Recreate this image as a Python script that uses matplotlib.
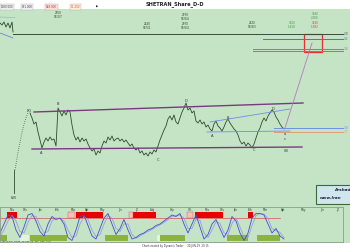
import matplotlib
matplotlib.use("Agg")
import matplotlib.pyplot as plt
from matplotlib.patches import Rectangle
import numpy as np

BG = "#c5e3c5"

# daily closes, first bar = 15
price_start = 15
price = [2870, 2820, 2760, 2780, 2680, 2600, 2520, 2580, 2620, 2590, 2630, 2600, 2610, 2540,
         2920, 2880, 2840, 2890, 2850, 2900, 2880, 2750, 2650, 2600, 2630, 2580, 2620, 2590,
         2610, 2560, 2520, 2490, 2510, 2450, 2490, 2470, 2540, 2590, 2570, 2630, 2600, 2640,
         2590, 2610, 2620, 2590, 2610, 2580, 2600, 2570, 2540, 2560, 2520, 2500, 2520, 2470,
         2490, 2450, 2470, 2440, 2480, 2460, 2500, 2480, 2540, 2600, 2650, 2700, 2740, 2810,
         2840, 2800, 2850, 2780, 2760, 2820, 2880, 2920, 2970, 2900, 2920, 2870, 2890, 2790,
         2770, 2800, 2760, 2780, 2730, 2750, 2710, 2690, 2760, 2790, 2740, 2720, 2690, 2730,
         2780, 2810, 2770, 2740, 2710, 2690, 2650, 2590, 2560, 2580, 2540, 2570, 2550, 2520,
         2560, 2620, 2680, 2720, 2780, 2820, 2790, 2840, 2870, 2900, 2880, 2830, 2800, 2760,
         2730, 2710]

# earlier swing in top-left corner
early_idx = [0, 1, 2, 3, 4, 5, 6, 6.5]
early_px = [3770, 3750, 3780, 3730, 3770, 3720, 3780, 3680]
early_line_idx = [0, 6.5]
early_line_px = [3670, 3620]
early_top_idx = [0, 7.5]
early_top_px = [3830, 3825]

# spike and dotted rally into (X)
spike_idx = [7, 7]
spike_px = [2070, 2300]
rally_idx = [7.5, 8.5, 9.5, 10.5, 11.5, 12.5, 13.5, 14]
rally_px = [2300, 2420, 2530, 2630, 2720, 2790, 2850, 2870]

# trend lines
chan_top_idx, chan_top_px = [17, 151.5], [2880, 2970]
chan_bot_idx, chan_bot_px = [16, 151], [2510, 2530]
tri_top_idx, tri_top_px = [105, 145], [2780, 2910]
tri_bot_idx, tri_bot_px = [103.5, 145], [2680, 2690]
proj_idx, proj_px = [142.5, 156], [2720, 3570]

# target box
box_idx = [152, 161]
box_px = [3480, 3660]

# horizontal levels
level_px = [3660, 3610, 3510, 3490, 2720, 2680]
level_from = [6.5, 131.5, 126.5, 126.5, 137, 137]
level_col = ["#3c4c3c", "#4a6ee0", "#7a8a7a", "#7a8a7a", "#6f8fe8", "#d8a070"]
level_txt = ["2.0", "4.2", "1.6", "", "1.8", "2.7"]

# wave labels
wave_txt = ["(W)", "(X)", "A", "B", "C", "D", "A", "B", "C", "D", "a", "c", "(B)"]
wave_idx = [7, 14.5, 20.5, 29, 79, 93, 106, 114, 127, 136.5, 142.5, 142.5, 143]
wave_px = [2020, 2890, 2470, 2960, 2400, 2990, 2640, 2820, 2500, 2910, 2660, 2610, 2490]

# time/price notes along the top
note_idx = [29, 73.5, 92.5, 92.5, 126, 146, 157.5, 157.5]
note_px = [3850, 3740, 3830, 3740, 3750, 3750, 3840, 3750]
note_txt = ["2950\n98/2/7", "2440\n98/5/1", "2970\n98/6/4", "2970\n98/6/4",
            "2520\n98/8/3", "3520\n1.618", "3660\n2.000", "3620\n1.382"]
note_col = ["#304030"] * 5 + ["#3c9a3c", "#3c9a3c", "#d04040"]

# oscillator
osc = [30, 60, 90, 85, 40, 15, 50, 90, 95, 70, 35, 20, 60, 85, 75, 80, 60, 15,
       5, 40, 85, 90, 55, 20, 10, 45, 80, 95, 60, 25, 45, 75, 40, 10, 15, 25,
       30, 40, 45, 55, 60, 70, 80, 90, 85, 95, 60, 30, 60, 90, 50, 10, 25, 60,
       75, 45, 15, 40, 85, 70, 30, 5, 30, 80, 95, 95, 90, 60, 30, 45, 20, 10]
sig = [20, 40, 70, 88, 70, 35, 30, 65, 88, 85, 55, 30, 35, 70, 80, 78, 70, 40,
       15, 20, 60, 85, 75, 40, 18, 25, 60, 88, 80, 45, 35, 60, 60, 25, 12, 20,
       28, 35, 42, 50, 57, 65, 75, 85, 88, 90, 80, 45, 45, 75, 72, 30, 15, 40,
       68, 62, 30, 25, 62, 80, 50, 18, 15, 55, 88, 95, 93, 78, 45, 38, 32, 15]
red_zones = [(3.5, 8.5), (38, 51.5), (66.5, 78), (97.5, 111.5), (124, 126.5)]
pink_zones = [(34, 37.5), (64.5, 66.5), (93.5, 96.5)]
green_zones = [(0, 3.5), (15, 33.5), (52.5, 64), (80, 92.5), (113.5, 124), (128.5, 140)]
light_zones = [(10, 14.5), (78.5, 80)]
month_idx = [6, 12.5, 20, 28.5, 36.5, 43.5, 51, 60, 68.5, 76.5, 86, 95, 103.5,
             111, 117.5, 125, 132.5, 141.5, 151.5, 161, 169]
month_txt = ["Nov", "Dec", "Jan", "Feb", "Mar", "Apr", "May", "Jun", "Jul", "Aug", "Sep",
             "Oct", "Nov", "Dec", "Jan", "Feb", "Mar", "Apr", "May", "Jun", "Jul"]

fig = plt.figure(figsize=(3.5, 2.5), dpi=100)
fig.patch.set_facecolor("white")

ax = fig.add_axes([0, 7 / 250, 1, 234 / 250])
ax.set_facecolor(BG)
ax.set_xlim(0, 175)
ax.set_ylim(1570, 3910)
ax.set_xticks([])
ax.set_yticks([])
for s in ax.spines.values():
    s.set_visible(False)

idx = np.arange(price_start, price_start + len(price))
ax.plot(idx, price, color="#2e4a2e", lw=0.6)
ax.plot(early_idx, early_px, color="#2e4a2e", lw=0.6)
ax.plot(early_line_idx, early_line_px, color="#5a78c8", lw=0.5)
ax.plot(early_top_idx, early_top_px, color="#8ab0d8", lw=0.4)
ax.plot(spike_idx, spike_px, color="#2e4a2e", lw=0.6)
ax.plot(rally_idx, rally_px, color="#2e4a2e", lw=0.7, ls=(0, (0.6, 1.6)))

ax.plot(chan_top_idx, chan_top_px, color="#7a3a80", lw=1.0)
ax.plot(chan_bot_idx, chan_bot_px, color="#7a3a80", lw=1.0)
ax.plot(tri_top_idx, tri_top_px, color="#6c8ee6", lw=0.6)
ax.plot(tri_bot_idx, tri_bot_px, color="#6c8ee6", lw=0.6)
ax.plot(proj_idx, proj_px, color="#b878c0", lw=0.6)

for y, x0, c, t in zip(level_px, level_from, level_col, level_txt):
    ax.plot([x0, 171.5], [y, y], color=c, lw=0.7)
    if t:
        ax.text(171.8, y, t, color=c, fontsize=2.1, va="center", ha="left")

ax.add_patch(Rectangle((box_idx[0], box_px[0]), box_idx[1] - box_idx[0],
                       box_px[1] - box_px[0], fill=False, ec="#e03030", lw=0.9))

for t, x, y in zip(wave_txt, wave_idx, wave_px):
    ax.text(x, y, t, fontsize=2.6, ha="center", va="center", color="#303050")

for x, y, t, c in zip(note_idx, note_px, note_txt, note_col):
    ax.text(x, y, t, fontsize=2.0, ha="center", va="center", color=c, linespacing=0.9)

# info box lower right
fig.patches.append(Rectangle((316 / 350, 46 / 250), 40 / 350, 19 / 250,
                             transform=fig.transFigure, fc="#cfe6ee",
                             ec="#3c6a3c", lw=0.8, zorder=5))
fig.text(334 / 350, 60 / 250, "Arshad", fontsize=3.0, style="italic",
         weight="bold", color="#202040", va="center", ha="left", zorder=6)
fig.text(320 / 350, 52 / 250, "www.Iran", fontsize=2.9, style="italic",
         weight="bold", color="#202040", va="center", ha="left", zorder=6)

# oscillator panel
ax2 = fig.add_axes([0, 8 / 250, 343 / 350, 35 / 250], zorder=3)
ax2.set_facecolor(BG)
ax2.set_xlim(0, 171.5)
ax2.set_ylim(0, 116.7)
ax2.set_yticks([])
ax2.set_xticks(month_idx)
ax2.set_xticklabels([])
ax2.tick_params(axis="x", direction="in", length=1.2, width=0.3, top=True,
                bottom=False, color="#607060")
for s in ax2.spines.values():
    s.set_color("#8c9c8c")
    s.set_linewidth(0.6)
for a, b in green_zones:
    ax2.add_patch(Rectangle((a, 3), b - a, 19, fc="#8cb43c", ec="none"))
for a, b in light_zones:
    ax2.add_patch(Rectangle((a, 3), b - a, 19, fc="#e2f4dc", ec="none"))
for a, b in red_zones:
    ax2.add_patch(Rectangle((a, 80), b - a, 20, fc="#e80000", ec="none"))
for a, b in pink_zones:
    ax2.add_patch(Rectangle((a, 80), b - a, 20, fc="#f6c0b4", ec="#c06060", lw=0.3))
ax2.plot([0, 140], [80, 80], color="#e05050", lw=0.5)
oidx = np.arange(0, 2 * len(osc), 2)
ax2.plot(oidx, sig, color="#a09ae0", lw=0.6)
ax2.plot(oidx, osc, color="#4050d0", lw=0.6)
for x, t in zip(month_idx, month_txt):
    ax2.text(x, 108, t, fontsize=1.9, ha="center", va="center", color="#304030")
ax2.text(1, 1.5, "Stoch 8,3  Close  22-SEP-18  Sys  Line  0.00", fontsize=1.6,
         color="#202020", va="bottom")

# top strip
fig.text(0.5, 246 / 250, "SHETRAN_Share_D-D", fontsize=3.6, weight="bold",
         ha="center", va="center", color="#202020")
top_txt = ["1300.000", "851.000", "848.000", "11.250"]
top_x = [1, 22, 46, 71]
top_fc = ["#f0f0f0", "#f0f0f0", "#fde0d8", "#fdf0d8"]
top_col = ["#404040", "#404040", "#d03030", "#d05030"]
for x, t, fc, c in zip(top_x, top_txt, top_fc, top_col):
    fig.text(x / 350, 243 / 250, t, fontsize=2.0, color=c, va="center", ha="left",
             bbox=dict(fc=fc, ec="#b0b0b0", lw=0.3, pad=0.4))
fig.text(96 / 350, 243 / 250, "\u25b6", fontsize=2.2, color="#202020", va="center")

# bottom strip
fig.text(0.5, 3.5 / 250, "Chart created by Dynamic Trader     30-JUN-19  20:15",
         fontsize=1.8, ha="center", va="center", color="#303030")

fig.savefig("out.png", dpi=100)
